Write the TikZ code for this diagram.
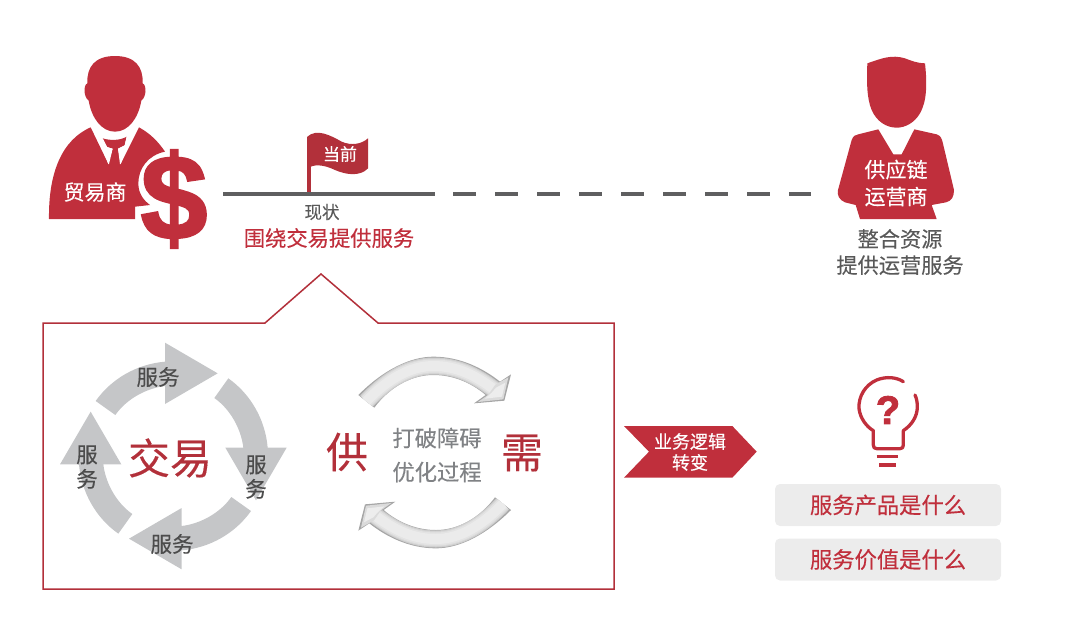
\documentclass[tikz,border=0pt]{standalone}
\usepackage{fontspec}
\setmainfont{Noto Sans CJK SC}[FakeBold=0.25]
\newfontfamily\latinbold[FakeBold=2]{Liberation Sans Bold}
\usetikzlibrary{calc,positioning}
\definecolor{brandred}{HTML}{C02F3C}
\definecolor{darkred}{HTML}{B2303A}
\definecolor{linegray}{HTML}{5F5F60}
\definecolor{textgray}{HTML}{595959}
\definecolor{softgray}{HTML}{808285}
\definecolor{arrowgray}{HTML}{C5C6C8}
\definecolor{boxgray}{HTML}{ECECEC}
\tikzset{
	cn/.style={inner sep=0pt, font=\fontsize{#1}{#1}\selectfont},
	cnlines/.style={inner sep=0pt, align=center, font=\fontsize{#1}{#1}\selectfont},
	question/.style={rounded corners=5pt, fill=boxgray, minimum width=226pt, minimum height=42pt, inner sep=0pt, text=brandred, font=\fontsize{22.3}{22.3}\selectfont},
	cyclearrow/.style={fill=arrowgray, draw=none}
}
\newcommand{\bevelband}{(139,184) .. controls (205,115) and (272,78) .. (340,78) .. controls (410,78) and (465,105) .. (522,148)}
\begin{document}
\begin{tikzpicture}[x=1pt,y=-1pt]
	\useasboundingbox (0,0) rectangle (1067,622);

	%trader
	\begin{scope}[shift={(30,40)},scale=1/3]
		\fill[brandred] (172,130) .. controls (170,80) and (195,48) .. (255,48) .. controls (315,48) and (340,80) .. (338,130) .. controls (350,135) and (350,170) .. (334,182) .. controls (325,235) and (295,275) .. (255,275) .. controls (215,275) and (185,235) .. (176,182) .. controls (160,170) and (160,135) .. (172,130) -- cycle;
		\fill[brandred] (182,262) -- (235,372) -- (250,325) -- (262,325) -- (272,372) -- (327,262) .. controls (360,280) and (385,305) .. (405,335) .. controls (355,345) and (325,385) .. (325,430) .. controls (325,460) and (340,480) .. (360,495) -- (315,500) -- (315,537) -- (57,537) .. controls (55,400) and (95,300) .. (182,262) -- cycle;
		\fill[brandred] (218,295) .. controls (240,302) and (270,302) .. (290,290) -- (284,316) -- (264,326) -- (272,372) -- (235,372) -- (248,326) -- (230,320) -- cycle;
		\fill[white] (235,372) -- (237,372) -- (248,326) -- (232,322) -- (218,295) -- (208,300) -- cycle;
		\fill[white] (272,372) -- (270,372) -- (264,326) -- (284,316) -- (290,290) -- (300,300) -- cycle;
	\end{scope}
	\node[inner sep=0pt, text=brandred] (dollar) at (174,199) {\fontsize{120}{120}\latinbold \$};
	\node[cn=21, text=white] (trader) at (95,192) {贸易商};

	%timeline
	\coordinate (solidstart) at (223,194);
	\coordinate (solidend) at (435,194);
	\coordinate (dashstart) at (453,194);
	\coordinate (dashend) at (811,194);
	\draw[linegray, line width=4pt] (solidstart)--(solidend);
	\draw[linegray, line width=4pt, dash pattern=on 23pt off 19pt] (dashstart)--(dashend);

	%flag
	\begin{scope}[shift={(30,40)},scale=1/3]
		\fill[darkred] (832,290) -- (843,290) -- (843,455) -- (832,455) -- cycle;
		\fill[darkred] (832,290) .. controls (860,265) and (900,285) .. (935,305) .. controls (965,318) and (995,312) .. (1014,295) -- (1014,385) .. controls (990,410) and (950,405) .. (915,390) .. controls (890,378) and (860,370) .. (838,382) -- cycle;
	\end{scope}
	\node[cn=17, text=white] (current) at (340,154) {当前};
	\node[cn=17.5, text=textgray] (status) at (322,212) {现状};
	\node[cn=21.3, text=brandred] (around) at (329,238) {围绕交易提供服务};

	%operator
	\begin{scope}[shift={(810,45)},scale=1/3]
		\fill[brandred] (172,55) .. controls (215,40) and (245,28) .. (285,40) .. controls (305,48) and (325,55) .. (345,55) .. controls (352,120) and (350,170) .. (330,205) .. controls (312,235) and (285,248) .. (260,248) .. controls (230,248) and (200,230) .. (185,195) .. controls (170,160) and (170,110) .. (172,55) -- cycle;
		\fill[brandred] (205,253) -- (250,328) -- (275,328) -- (313,253) -- (380,268) .. controls (392,272) and (395,280) .. (398,292) -- (432,435) .. controls (432,455) and (425,468) .. (408,472) -- (365,480) -- (380,522) -- (150,522) -- (137,480) -- (105,472) .. controls (88,465) and (80,450) .. (84,435) -- (125,285) .. controls (130,272) and (135,270) .. (145,268) -- cycle;
	\end{scope}
	\node[cnlines=21, text=white] (operator) at (896,183) {供应链\\[6pt]运营商};
	\node[cnlines=21.2, text=textgray] (integrate) at (900,252) {整合资源\\[5pt]提供运营服务};

	%callout
	\coordinate (peak) at (321,274);
	\draw[darkred, line width=1.5pt, line join=miter] (43,323)--(265,323)--(peak)--(378,323)--(614,323)--(614,589)--(43,589)--cycle;

	%cycle
	\begin{scope}[shift={(40,320)},scale=1/3]
		\foreach \a in {0,-90,-180,-270}{
			\fill[cyclearrow, rotate around={\a:(400,408)}] (167,243) .. controls (215,175) and (292,132) .. (375,125) -- (375,68) -- (533,160) -- (375,252) -- (375,198) .. controls (317,205) and (259,238) .. (226,285) -- cycle;
		}
	\end{scope}
	\node[cn=21.5, text=textgray!85!black] (servtop) at (158,377) {服务};
	\node[cnlines=21.5, text=textgray!85!black] (servright) at (256,477) {服\\[3pt]务};
	\node[cn=21.5, text=textgray!85!black] (servbottom) at (172,544) {服务};
	\node[cnlines=21.5, text=textgray!85!black] (servleft) at (87,467) {服\\[3pt]务};
	\node[cn=42, text=darkred] (trade) at (170,458) {交易};

	%supply and demand
	\begin{scope}[shift={(320,340)},scale=1/3]
		\foreach \a in {0,180}{
			\begin{scope}[rotate around={\a:(344,337.5)}]
				\fill[gray!70!white] (115,165) .. controls (190,90) and (270,50) .. (340,50) .. controls (420,50) and (490,85) .. (540,125) -- (573,103) -- (553,182) -- (462,190) -- (497,165) .. controls (450,125) and (395,105) .. (340,105) .. controls (275,105) and (210,140) .. (163,203) -- cycle;
				\begin{scope}
					\clip (115,165) .. controls (190,90) and (270,50) .. (340,50) .. controls (420,50) and (490,85) .. (540,125) -- (530,160) -- (497,165) .. controls (450,125) and (395,105) .. (340,105) .. controls (275,105) and (210,140) .. (163,203) -- cycle;
					\draw[black!20, line width=17pt] \bevelband;
					\draw[black!15, line width=15pt] \bevelband;
					\draw[black!11, line width=13pt] \bevelband;
					\draw[black!8, line width=10pt] \bevelband;
				\end{scope}
				\fill[black!14] (526,134) -- (565,112) -- (550,178) -- (474,186) -- (505,164) -- cycle;
				\fill[black!7] (528,143) -- (556,128) -- (546,170) -- (495,176) -- (515,158) -- cycle;
			\end{scope}
		}
	\end{scope}
	\node[cn=42, text=darkred] (supply) at (347,452) {供};
	\node[cn=42, text=darkred] (demand) at (522,453) {需};
	\node[cn=22.3, text=softgray] (breakwall) at (437,438) {打破障碍};
	\node[cn=22.3, text=softgray] (optimize) at (437,472) {优化过程};

	%logic shift
	\begin{scope}[shift={(610,370)},scale=1/3]
		\fill[brandred] (42,168) -- (367,168) -- (440,245) -- (367,323) -- (42,323) -- (117,245) -- cycle;
	\end{scope}
	\node[cnlines=18, text=white] (logic) at (690,452) {业务逻辑\\[3pt]转变};

	%bulb
	\begin{scope}[shift={(610,370)},scale=1/3]
		\draw[brandred, line width=3.3pt, line cap=round, line join=round] (880,35) .. controls (860,22) and (830,18) .. (800,30) .. controls (765,45) and (745,80) .. (747,115) .. controls (750,145) and (770,170) .. (790,182) -- (790,225) .. controls (790,232) and (793,236) .. (800,236) -- (870,236) .. controls (877,236) and (880,232) .. (880,225) -- (880,182) .. controls (905,165) and (922,140) .. (922,110) .. controls (922,98) and (920,85) .. (915,75);
		\draw[brandred, line width=3.3pt] (800,260)--(865,260);
		\draw[brandred, line width=3.3pt] (808,285)--(857,285);
	\end{scope}
	\node[inner sep=0pt, text=brandred] (mark) at (888,410) {\fontsize{40}{40}\latinbold ?};

	%questions
	\node[question] (product) at (888,505) {服务产品是什么};
	\node[question] (value) at (888,559.5) {服务价值是什么};
\end{tikzpicture}
\end{document}
